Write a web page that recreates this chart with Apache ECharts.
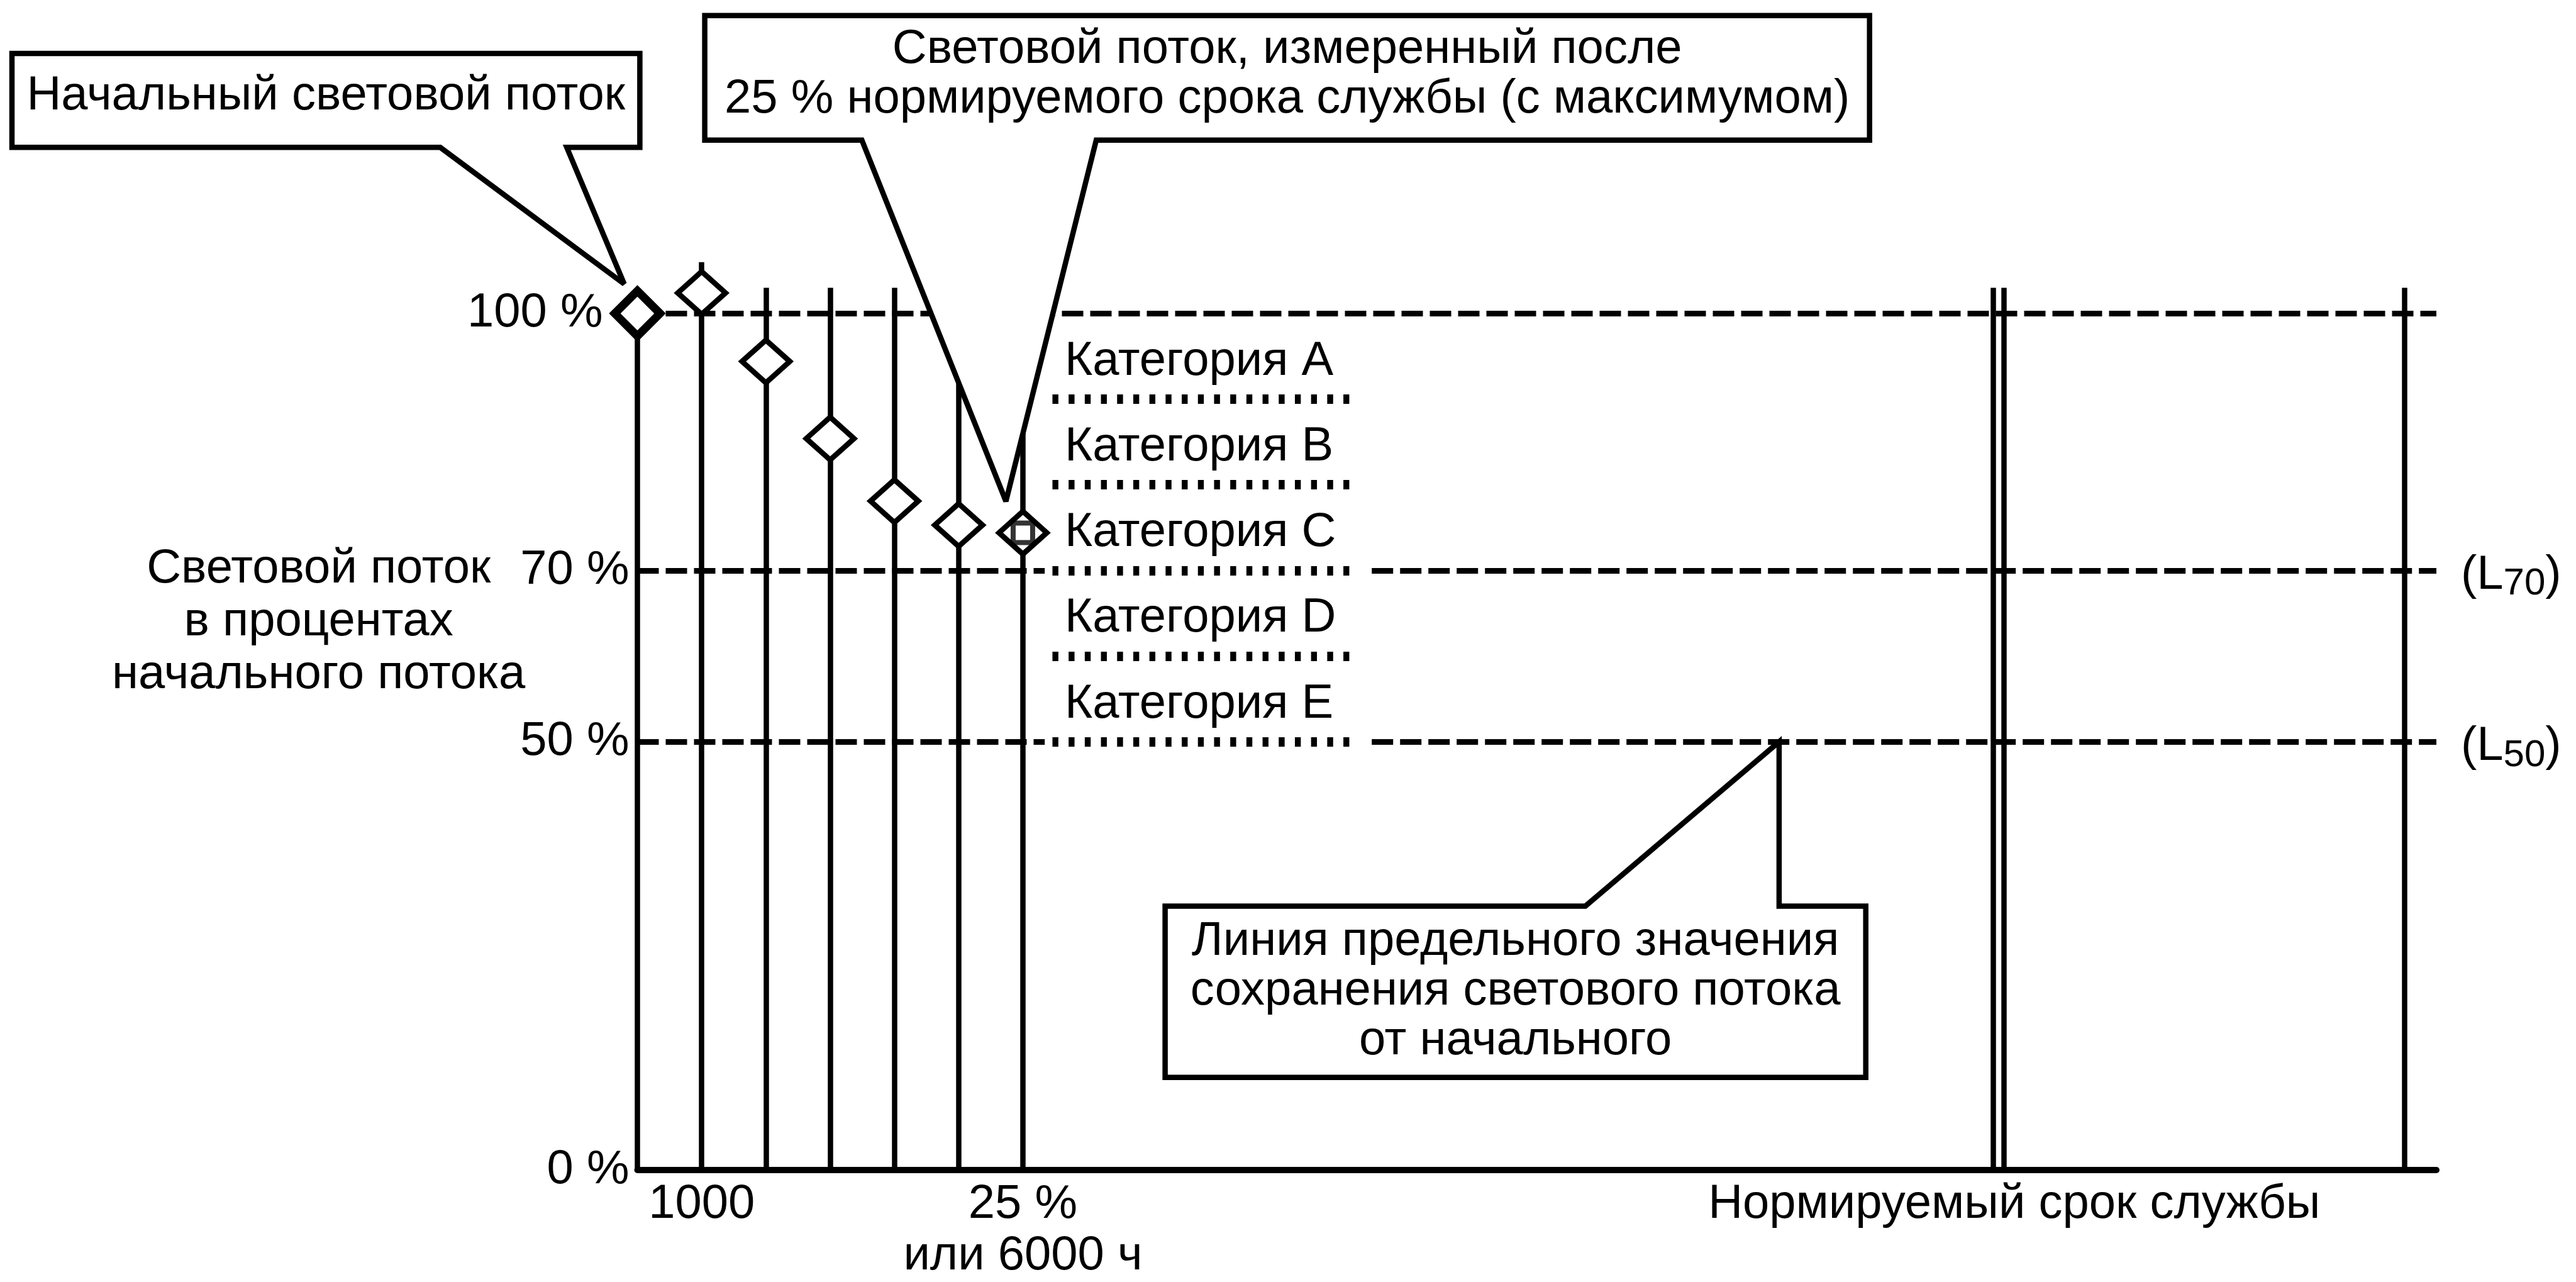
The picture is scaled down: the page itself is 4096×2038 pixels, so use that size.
<!DOCTYPE html>
<html>
<head>
<meta charset="utf-8">
<title>Световой поток</title>
<script src="https://cdn.jsdelivr.net/npm/echarts@6/dist/echarts.min.js"></script>
<style>
  html, body { margin: 0; padding: 0; background: #fff; }
  #chart { width: 4096px; height: 2038px; }
</style>
</head>
<body>
<div id="chart"></div>
<script>
// наработка в точках измерения, ч
const hours = [0, 1000, 2000, 3000, 4000, 5000, 6000];
// световой поток, % от начального
const flux = [100, 102.4, 94.4, 85.4, 78.1, 75.3, 74.4];
// верх вертикальных линий в точках измерения, %
const lineTops = [100, 106, 103, 103, 103, 103, 103];
// двойная линия нормируемого срока службы и правая линия, ч
const ratedLife = [21100, 21270];
const endLife = [27500];
const sideTop = 103;
// уровни
const levelLines = [100, 70, 50];
const subLevels = [70, 50];
const categoryBounds = [90, 80, 70, 60, 50];
const categoryNames = ['Категория A', 'Категория B', 'Категория C', 'Категория D', 'Категория E'];
// подписи осей
const yTicks = [0, 50, 70, 100];
const yTickLabels = ['0 %', '50 %', '70 %', '100 %'];
const xTicks = [1000, 6000, 21430];
const xTickLabels = ['1000', '25 %\nили 6000 ч', 'Нормируемый срок службы'];
// участок пунктирных границ категорий и разрыв штриховых линий, ч
const categorySpan = [6460, 11130];
const dashGap = [6340, 11430];
// точка линии предельного значения
const limitPoint = [17770, 50];

const X_MAX = 28000;
const FONT = '"Liberation Sans", Arial, Helvetica, sans-serif';
const FS = 76;

const chart = echarts.init(document.getElementById('chart'));

const vLines = hours.map((h, i) => ({ coords: [[h, 0], [h, lineTops[i]]] }));
ratedLife.concat(endLife).forEach(h => vLines.push({ coords: [[h, 0], [h, sideTop]] }));

const dashed = [];
levelLines.forEach(v => {
  if (subLevels.includes(v)) {
    dashed.push({ coords: [[0, v], [dashGap[0], v]] });
    dashed.push({ coords: [[dashGap[1], v], [X_MAX, v]] });
  } else {
    dashed.push({ coords: [[0, v], [X_MAX, v]] });
  }
});

const dotted = categoryBounds.map(v => ({ coords: [[categorySpan[0], v], [categorySpan[1], v]] }));

const diamonds = hours.map((h, i) => {
  const d = { value: [h, flux[i]] };
  if (i === 0) {
    d.symbolSize = [72, 72];
    d.itemStyle = { borderWidth: 13 };
  }
  return d;
});

const option = {
  animation: false,
  backgroundColor: '#fff',
  grid: { left: 1013.5, right: 222, top: 362.2, bottom: 170.2 },
  xAxis: {
    type: 'value',
    min: 0,
    max: X_MAX,
    splitLine: { show: false },
    axisTick: { show: false },
    axisLine: { show: true, lineStyle: { color: '#000', width: 10 } },
    axisLabel: {
      customValues: xTicks,
      formatter: v => xTickLabels[xTicks.indexOf(v)] || '',
      color: '#000',
      fontFamily: FONT,
      fontSize: FS,
      lineHeight: 82,
      margin: 14
    }
  },
  yAxis: {
    type: 'value',
    min: 0,
    max: 110,
    splitLine: { show: false },
    axisTick: { show: false },
    axisLine: { show: false },
    axisLabel: {
      customValues: yTicks,
      formatter: v => {
        const t = yTickLabels[yTicks.indexOf(v)] || '';
        return v === 100 ? '{far|' + t + '}' : t;
      },
      color: '#000',
      fontFamily: FONT,
      fontSize: FS,
      margin: 13,
      rich: {
        far: { fontFamily: FONT, fontSize: FS, color: '#000', padding: [0, 42, 0, 0] }
      }
    }
  },
  series: [
    {
      type: 'lines',
      coordinateSystem: 'cartesian2d',
      z: 2,
      silent: true,
      lineStyle: { color: '#000', width: 9, type: [34, 11], opacity: 1 },
      data: dashed
    },
    {
      type: 'lines',
      coordinateSystem: 'cartesian2d',
      z: 2,
      silent: true,
      lineStyle: { color: '#000', width: 15, type: [9.4, 16.3], opacity: 1 },
      data: dotted
    },
    {
      type: 'lines',
      coordinateSystem: 'cartesian2d',
      z: 3,
      silent: true,
      lineStyle: { color: '#000', width: 8.5, type: 'solid', opacity: 1 },
      data: vLines
    },
    {
      type: 'scatter',
      z: 5,
      symbol: 'diamond',
      symbolSize: [76, 68],
      itemStyle: { color: '#fff', borderColor: '#000', borderWidth: 8.5, opacity: 1 },
      data: diamonds
    },
    {
      type: 'scatter',
      z: 6,
      symbol: 'rect',
      symbolSize: 31,
      itemStyle: { color: 'rgba(0,0,0,0)', borderColor: '#000', borderWidth: 8 },
      data: [[hours[6], flux[6]]]
    }
  ]
};

chart.setOption(option);

const px = (x, y) => chart.convertToPixel({ gridIndex: 0 }, [x, y]);

function txt(x, y, text, extra) {
  return {
    type: 'text',
    z: 120,
    x: x,
    y: y,
    style: Object.assign({
      text: text,
      fill: '#000',
      fontFamily: FONT,
      fontSize: FS,
      align: 'center',
      verticalAlign: 'middle'
    }, extra || {})
  };
}

function box(points) {
  return {
    type: 'polygon',
    z: 110,
    shape: { points: points },
    style: { fill: '#fff', stroke: '#000', lineWidth: 8.5, lineJoin: 'miter', miterLimit: 3 }
  };
}

const g = [];

// подпись оси Y
g.push(txt(506.7, 989, 'Световой поток\nв процентах\nначального потока', { lineHeight: 84 }));

// категории
categoryBounds.forEach((v, i) => {
  const p = px(categorySpan[0], v);
  g.push(txt(1693, p[1] - 59.5, categoryNames[i], { align: 'left' }));
});

// (L70), (L50)
subLevels.forEach(v => {
  const p = px(X_MAX, v);
  const x0 = p[0] + 39;
  g.push(txt(x0, p[1] + 8, '(L', { align: 'left' }));
  g.push(txt(x0 + 67.6, p[1] + 22, String(v), { align: 'left', fontSize: 60 }));
  g.push(txt(x0 + 67.6 + 66.7, p[1] + 8, ')', { align: 'left' }));
});

// выноска 1
{
  const d = px(hours[0], flux[0]);
  const tip = [d[0] - 21, d[1] - 47];
  const L = 19, T = 85, R = 1017.4, B = 234.3;
  g.push(box([[L, T], [R, T], [R, B], [901.2, B], tip, [700, B], [L, B]]));
  g.push(txt((L + R) / 2, 153, 'Начальный световой поток'));
}

// выноска 2
{
  const d = px(hours[6], flux[6]);
  const tip = [d[0] - 27, d[1] - 50];
  const L = 1120.6, T = 24.8, R = 2972.7, B = 222.8;
  g.push(box([[L, T], [R, T], [R, B], [1743.1, B], tip, [1370.4, B], [L, B]]));
  g.push(txt((L + R) / 2, 119, 'Световой поток, измеренный после\n25 % нормируемого срока службы (с максимумом)', { lineHeight: 79 }));
}

// выноска 3
{
  const v = px(limitPoint[0], limitPoint[1]);
  const L = 1852.6, T = 1440.6, R = 2966.7, B = 1712.8;
  g.push(box([[L, T], [2520.8, T], v, [v[0], T], [R, T], [R, B], [L, B]]));
  g.push(txt((L + R) / 2, 1576, 'Линия предельного значения\nсохранения светового потока\nот начального', { lineHeight: 79 }));
}

chart.setOption({ graphic: g });
</script>
</body>
</html>
